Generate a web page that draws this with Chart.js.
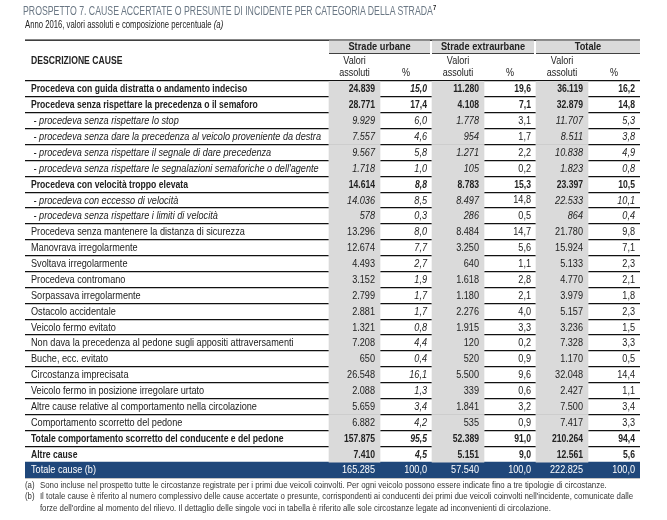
<!DOCTYPE html>
<html>
<head>
<meta charset="utf-8">
<script src="https://cdn.jsdelivr.net/npm/chart.js@4.4.1/dist/chart.umd.min.js"></script>
<style>
body { margin: 0; background: #fff; }
#wrap { position: relative; width: 667px; height: 520px; font-family: "Liberation Sans", Arial, sans-serif; }
#wrap canvas { position: absolute; left: 0; top: 0; }
.title { position: absolute; left: 23px; top: 3px; font-size: 12px; color: #6a7784; white-space: nowrap; transform: scaleX(0.728); transform-origin: 0 0; }
.title sup { color: #222; font-weight: bold; font-size: 8px; }
.subtitle { position: absolute; left: 25px; top: 18px; font-size: 10.5px; color: #222; white-space: nowrap; transform: scaleX(0.735); transform-origin: 0 0; }
.notes { position: absolute; left: 25px; top: 480px; width: 709px; font-size: 9px; line-height: 11.3px; color: #333; transform: scaleX(0.875); transform-origin: 0 0; }
.notes div { display: flex; }
.notes span:first-child { width: 17px; flex: none; }
</style>
</head>
<body>
<div id="wrap">
  <canvas id="table"></canvas>
  <div class="title">PROSPETTO 7. CAUSE ACCERTATE O PRESUNTE DI INCIDENTE PER CATEGORIA DELLA STRADA<sup>7</sup></div>
  <div class="subtitle">Anno 2016, valori assoluti e composizione percentuale <i>(a)</i></div>
  <div class="notes">
    <div><span>(a)</span><span>Sono incluse nel prospetto tutte le circostanze registrate per i primi due veicoli coinvolti. Per ogni veicolo possono essere indicate fino a tre tipologie di circostanze.</span></div>
    <div><span>(b)</span><span>Il totale cause è riferito al numero complessivo delle cause accertate o presunte, corrispondenti ai conducenti dei primi due veicoli coinvolti nell'incidente, comunicate dalle forze dell'ordine al momento del rilievo. Il dettaglio delle singole voci in tabella è riferito alle sole circostanze legate ad inconvenienti di circolazione.</span></div>
  </div>
</div>
<script>
// data read from the prospetto
const causes = [
    "Procedeva con guida distratta o andamento indeciso",
    "Procedeva senza rispettare la precedenza o il semaforo",
    " - procedeva senza rispettare lo stop",
    " - procedeva senza dare la precedenza al veicolo proveniente da destra",
    " - procedeva senza rispettare il segnale di dare precedenza",
    " - procedeva senza rispettare le segnalazioni semaforiche o dell'agente",
    "Procedeva con velocità troppo elevata",
    " - procedeva con eccesso di velocità",
    " - procedeva senza rispettare i limiti di velocità",
    "Procedeva senza mantenere la distanza di sicurezza",
    "Manovrava irregolarmente",
    "Svoltava irregolarmente",
    "Procedeva contromano",
    "Sorpassava irregolarmente",
    "Ostacolo accidentale",
    "Veicolo fermo evitato",
    "Non dava la precedenza al pedone sugli appositi attraversamenti",
    "Buche, ecc. evitato",
    "Circostanza imprecisata",
    "Veicolo fermo in posizione irregolare urtato",
    "Altre cause relative al comportamento nella circolazione",
    "Comportamento scorretto del pedone",
    "Totale comportamento scorretto del conducente e del pedone",
    "Altre cause",
    "Totale cause (b)"
];
const urbaneAbs = [24839, 28771, 9929, 7557, 9567, 1718, 14614, 14036, 578, 13296, 12674, 4493, 3152, 2799, 2881, 1321, 7208, 650, 26548, 2088, 5659, 6882, 157875, 7410, 165285];
const urbanePct = [15.0, 17.4, 6.0, 4.6, 5.8, 1.0, 8.8, 8.5, 0.3, 8.0, 7.7, 2.7, 1.9, 1.7, 1.7, 0.8, 4.4, 0.4, 16.1, 1.3, 3.4, 4.2, 95.5, 4.5, 100.0];
const extraAbs = [11280, 4108, 1778, 954, 1271, 105, 8783, 8497, 286, 8484, 3250, 640, 1618, 1180, 2276, 1915, 120, 520, 5500, 339, 1841, 535, 52389, 5151, 57540];
const extraPct = [19.6, 7.1, 3.1, 1.7, 2.2, 0.2, 15.3, 14.8, 0.5, 14.7, 5.6, 1.1, 2.8, 2.1, 4.0, 3.3, 0.2, 0.9, 9.6, 0.6, 3.2, 0.9, 91.0, 9.0, 100.0];
const totaleAbs = [36119, 32879, 11707, 8511, 10838, 1823, 23397, 22533, 864, 21780, 15924, 5133, 4770, 3979, 5157, 3236, 7328, 1170, 32048, 2427, 7500, 7417, 210264, 12561, 222825];
const totalePct = [16.2, 14.8, 5.3, 3.8, 4.9, 0.8, 10.5, 10.1, 0.4, 9.8, 7.1, 2.3, 2.1, 1.8, 2.3, 1.5, 3.3, 0.5, 14.4, 1.1, 3.4, 3.3, 94.4, 5.6, 100.0];
const groupLabels = ["Strade urbane", "Strade extraurbane", "Totale"];
const headerLabel = "DESCRIZIONE CAUSE";

// layout (table units, 1 unit = 1px of table width)
const colEdges = [0, 304, 355, 407, 459, 511, 563, 615];
const boldRows = [0, 1, 6, 22, 23];
const FONT = '"Liberation Sans", Arial, sans-serif';
const GREY = "#dadada";
const BLUE = "#1f477a";

const lastRow = causes.length - 1;

function fmtInt(v) {
    return String(v).replace(/\B(?=(\d{3})+(?!\d))/g, ".");
}
function fmtPct(v) {
    return v.toFixed(1).replace(".", ",");
}
function font(size, bold, italic) {
    return (italic ? "italic " : "") + (bold ? "bold " : "") + size + "px " + FONT;
}
// no narrow font installed: squeeze the glyphs horizontally
function narrowText(ctx, txt, x, y, squeeze) {
    ctx.save();
    ctx.translate(x, y);
    ctx.scale(squeeze, 1);
    ctx.fillText(txt, 0, 0);
    ctx.restore();
}

// gray bands behind the "valori assoluti" columns + blue band for the total row
let bandSets = [1, 3, 5].map(function (c) {
    return {
        data: causes.map(function (_, i) { return i < lastRow ? [colEdges[c], colEdges[c + 1]] : null; }),
        backgroundColor: GREY
    };
});
bandSets.push({
    data: causes.map(function (_, i) { return i == lastRow ? [colEdges[0], colEdges[colEdges.length - 1]] : null; }),
    backgroundColor: BLUE
});

const tableText = {
    id: "tableText",
    afterDraw: function (chart) {
        let ctx = chart.ctx;
        let x = chart.scales.x, y = chart.scales.y;
        let left = chart.chartArea.left, right = chart.chartArea.right;
        ctx.save();
        ctx.textBaseline = "middle";

        // header
        ctx.fillStyle = "#111";
        ctx.fillRect(left, 39.5, right - left, 1.3);
        for (let g = 0; g < 3; g++) {
            let x0 = x.getPixelForValue(colEdges[1 + 2 * g]);
            let xm = x.getPixelForValue(colEdges[2 + 2 * g]);
            let x1 = x.getPixelForValue(colEdges[3 + 2 * g]);
            let xe = x1 - (g < 2 ? 2 : 0);
            ctx.fillStyle = GREY;
            ctx.fillRect(x0, 40.5, xe - x0, 12.5);
            ctx.fillStyle = "#111";
            ctx.fillRect(x0, 53, xe - x0, 0.8);
            ctx.fillStyle = "#222";
            ctx.font = font(11, true, false);
            ctx.textAlign = "center";
            narrowText(ctx, groupLabels[g], (x0 + xe) / 2, 47, 0.84);

            ctx.font = font(10.5, false, false);
            narrowText(ctx, "Valori", (x0 + xm) / 2, 61, 0.86);
            narrowText(ctx, "assoluti", (x0 + xm) / 2, 73, 0.86);
            narrowText(ctx, "%", (xm + x1) / 2, 73, 0.86);
        }
        ctx.font = font(10.5, true, false);
        ctx.textAlign = "left";
        narrowText(ctx, headerLabel, x.getPixelForValue(6), 61, 0.82);

        // rows
        let cols = [urbaneAbs, urbanePct, extraAbs, extraPct, totaleAbs, totalePct];
        causes.forEach(function (label, i) {
            let yc = y.getPixelForValue(i) + 0.5;
            let bold = boldRows.indexOf(i) >= 0;
            let sub = label.indexOf(" - ") == 0;
            let squeeze = bold ? 0.82 : 0.87;
            ctx.fillStyle = i == lastRow ? "#fff" : "#222";
            ctx.textAlign = "left";
            ctx.font = font(10.5, bold, sub);
            narrowText(ctx, label, x.getPixelForValue(6), yc, squeeze);

            ctx.textAlign = "right";
            cols.forEach(function (arr, c) {
                let isPct = c % 2 == 1;
                let italic = false;
                if (sub) italic = c != 3;
                if (c == 1 && i != 1 && i != lastRow) italic = true;
                ctx.font = font(10.5, bold, italic);
                let txt = isPct ? fmtPct(arr[i]) : fmtInt(arr[i]);
                narrowText(ctx, txt, x.getPixelForValue(colEdges[c + 2]) - 5, yc, squeeze);
            });
        });
        ctx.restore();
    }
};

new Chart(document.getElementById("table"), {
    type: "bar",
    data: {
        labels: causes,
        datasets: bandSets
    },
    options: {
        indexAxis: "y",
        responsive: true,
        maintainAspectRatio: false,
        animation: false,
        grouped: false,
        barPercentage: 1,
        categoryPercentage: 1,
        borderWidth: 0,
        layout: { padding: { left: 25, right: 27, top: 81, bottom: 42 } },
        scales: {
            x: { type: "linear", display: false, min: colEdges[0], max: colEdges[colEdges.length - 1] },
            y: {
                type: "category",
                offset: true,
                z: 1,
                ticks: { display: false },
                border: { display: false },
                grid: { offset: true, color: "#111", lineWidth: 1.2, drawTicks: false }
            }
        },
        plugins: {
            legend: { display: false },
            tooltip: { enabled: false }
        }
    },
    plugins: [tableText]
});
</script>
</body>
</html>
